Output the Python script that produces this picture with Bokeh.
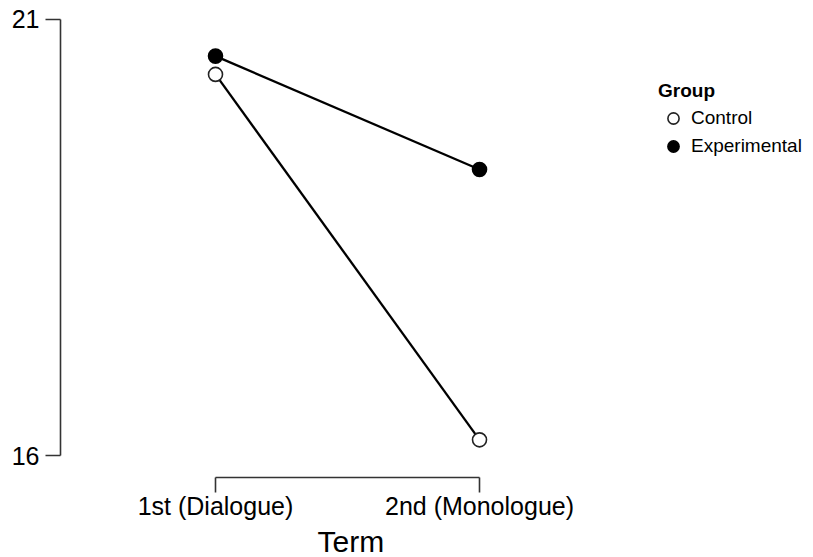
from bokeh.plotting import figure
from bokeh.models import (ColumnDataSource, FixedTicker, Range1d, Legend, LegendItem, Title)
from bokeh.embed import file_html
from bokeh.resources import INLINE

# Mean scores per term for each group
terms = ["1st (Dialogue)", "2nd (Monologue)"]
term_pos = [1, 2]
control = [20.37, 16.18]
experimental = [20.58, 19.28]
y_ticks = [16, 21]

FONT = "Liberation Sans"

p = figure(width=813, height=557, output_backend="svg", toolbar_location=None,
           x_range=Range1d(0.4129, 3.265), y_range=Range1d(15.748, 21.103),
           min_border_left=60, min_border_right=0, min_border_top=10,
           min_border_bottom=0)
p.outline_line_color = None
p.xgrid.visible = False
p.ygrid.visible = False
p.background_fill_color = "white"
p.border_fill_color = "white"

src_c = ColumnDataSource(dict(x=term_pos, y=control))
src_e = ColumnDataSource(dict(x=term_pos, y=experimental))

p.line("x", "y", source=src_c, line_color="black", line_width=2.3)
p.line("x", "y", source=src_e, line_color="black", line_width=2.3)
r_c = p.scatter("x", "y", source=src_c, size=14, marker="circle",
                fill_color="white", line_color="#222222", line_width=1.6)
r_e = p.scatter("x", "y", source=src_e, size=14, marker="circle",
                fill_color="black", line_color="black", line_width=1.6)

# y axis: range-frame style line between the two end ticks
ya = p.yaxis[0]
ya.ticker = FixedTicker(ticks=y_ticks)
ya.bounds = (16, 21)
ya.axis_line_color = "#333333"
ya.axis_line_width = 1.6
ya.major_tick_line_color = "#333333"
ya.major_tick_line_width = 1.6
ya.major_tick_out = 15
ya.major_tick_in = 0
ya.minor_tick_line_color = None
ya.major_label_standoff = 6
ya.major_label_text_font = FONT
ya.major_label_text_font_size = "25px"
ya.major_label_text_color = "black"

# x axis: bracket spanning the two terms
xa = p.xaxis[0]
xa.ticker = FixedTicker(ticks=term_pos)
xa.major_label_overrides = {pos: lab for pos, lab in zip(term_pos, terms)}
xa.bounds = (1, 2)
xa.axis_line_color = "#333333"
xa.axis_line_width = 1.6
xa.major_tick_line_color = "#333333"
xa.major_tick_line_width = 1.6
xa.major_tick_out = 15
xa.major_tick_in = 0
xa.minor_tick_line_color = None
xa.major_label_standoff = -1
xa.major_label_text_font = FONT
xa.major_label_text_font_size = "25px"
xa.major_label_text_color = "black"

# axis title centred under the bracket rather than the whole frame
term_title = Title(text="Term", align="left", offset=257, standoff=0,
                   text_font=FONT, text_font_size="30px",
                   text_font_style="normal", text_color="black")
p.add_layout(term_title, "below")

legend = Legend(items=[LegendItem(label="Control", renderers=[r_c]),
                       LegendItem(label="Experimental", renderers=[r_e])],
                location=(598, 317), title="Group")
legend.title_text_font = FONT
legend.title_text_font_style = "bold"
legend.title_text_font_size = "19px"
legend.title_text_color = "black"
legend.label_text_font = FONT
legend.label_text_font_size = "19px"
legend.label_text_color = "black"
legend.glyph_width = 30
legend.glyph_height = 28
legend.label_height = 24
legend.spacing = 0
legend.label_standoff = 3
legend.border_line_color = None
legend.background_fill_alpha = 0
legend.padding = 0
legend.margin = 0
legend.title_standoff = 2
p.add_layout(legend, "center")

open("out.html", "w").write(file_html(p, INLINE))
